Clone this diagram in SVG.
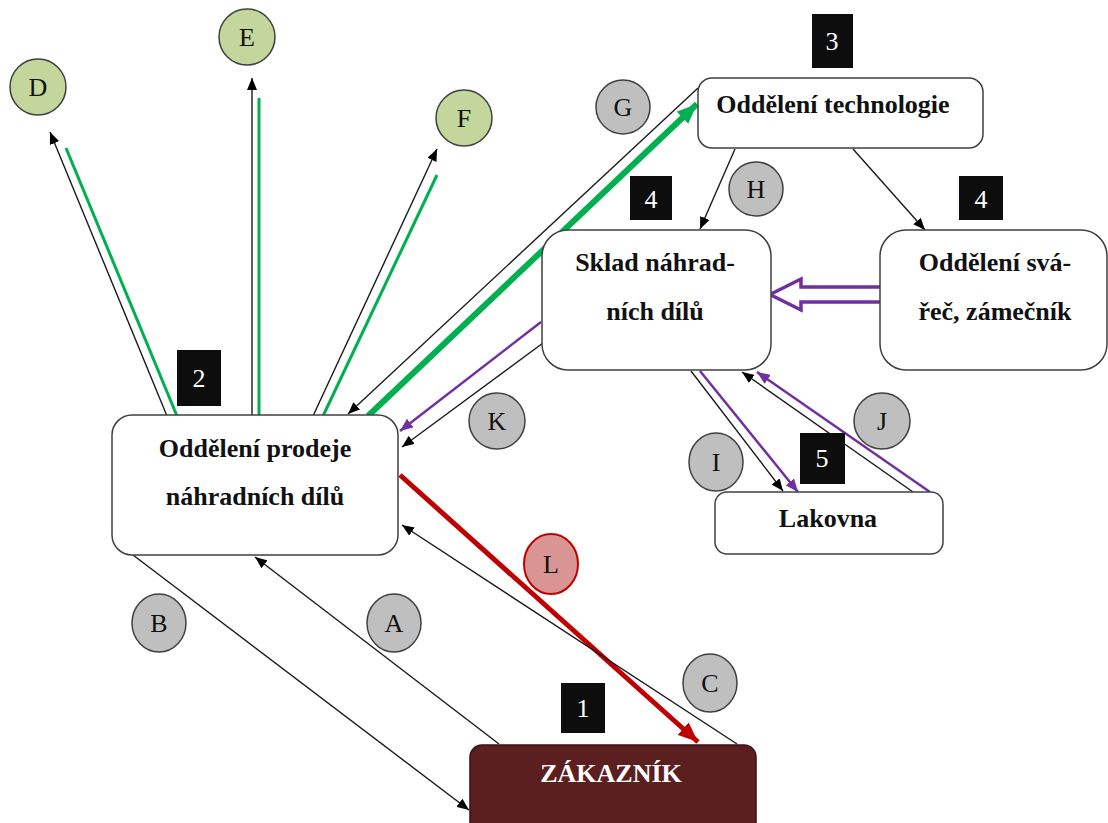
<svg xmlns="http://www.w3.org/2000/svg" width="1108" height="823" viewBox="0 0 1108 823">
<style>
.box{fill:#fff;stroke:#404040;stroke-width:1.5}
.t{font-family:"Liberation Serif","Times New Roman",serif;font-weight:bold;font-size:26px;fill:#111;text-anchor:middle}
.lbl{font-family:"Liberation Serif","Times New Roman",serif;font-size:26px;fill:#111;text-anchor:middle}
.num{fill:#0d0d0d}
.numt{font-family:"Liberation Serif","Times New Roman",serif;font-size:26px;fill:#fff;text-anchor:middle}
.gray{fill:#bfbfbf;stroke:#404040;stroke-width:1.5}
.green{fill:#c3d69b;stroke:#404040;stroke-width:1.5}
.k{stroke:#1a1a1a;stroke-width:1.4;fill:none;marker-end:url(#ak)}
.g{stroke:#00b050;stroke-width:3;fill:none}
.p{stroke:#7030a0;stroke-width:2.5;fill:none;marker-end:url(#ap)}
</style>
<defs>
<marker id="ak" viewBox="0 0 12 10" refX="12" refY="5" markerWidth="12" markerHeight="10" markerUnits="userSpaceOnUse" orient="auto"><path d="M0,0 L12,5 L0,10 z" fill="#000"/></marker>
<marker id="ap" viewBox="0 0 12 10" refX="12" refY="5" markerWidth="13" markerHeight="11" markerUnits="userSpaceOnUse" orient="auto"><path d="M0,0 L12,5 L0,10 z" fill="#7030a0"/></marker>
<marker id="ag" viewBox="0 0 12 10" refX="12" refY="5" markerWidth="20" markerHeight="17" markerUnits="userSpaceOnUse" orient="auto"><path d="M0,0 L12,5 L0,10 z" fill="#00b050"/></marker>
<marker id="ar" viewBox="0 0 12 10" refX="12" refY="5" markerWidth="20" markerHeight="17" markerUnits="userSpaceOnUse" orient="auto"><path d="M0,0 L12,5 L0,10 z" fill="#c00000"/></marker>
</defs>
<g id="connectors">
<line class="k" x1="167" y1="416" x2="50" y2="132"/>
<line class="g" x1="177" y1="416" x2="66" y2="148"/>
<line class="k" x1="252" y1="416" x2="252" y2="78"/>
<line class="g" x1="259" y1="416" x2="259" y2="98"/>
<line class="k" x1="313" y1="416" x2="437" y2="149"/>
<line class="g" x1="323" y1="416" x2="437" y2="175"/>
<line class="k" x1="698" y1="88" x2="348" y2="414"/>
<line x1="368" y1="416" x2="697" y2="104" stroke="#00b050" stroke-width="6" marker-end="url(#ag)"/>
<line class="k" x1="735" y1="149" x2="700" y2="229"/>
<line class="k" x1="853" y1="149" x2="925" y2="230"/>
<polygon points="884,287 801,287 801,279 770,294.5 801,310 801,302 884,302" fill="#fff" stroke="#7030a0" stroke-width="3.5"/>
<line class="p" x1="541" y1="322" x2="400" y2="431"/>
<line class="k" x1="543" y1="343" x2="402" y2="447"/>
<line class="k" x1="691" y1="371" x2="783" y2="491"/>
<line class="p" x1="700" y1="371" x2="798" y2="492"/>
<line class="k" x1="913" y1="492" x2="742" y2="372"/>
<line class="p" x1="930" y1="492" x2="757" y2="372"/>
<line x1="400" y1="475" x2="698" y2="742" stroke="#c00000" stroke-width="5" marker-end="url(#ar)"/>
<line class="k" x1="133" y1="555" x2="469" y2="810"/>
<line class="k" x1="499" y1="744" x2="255" y2="557"/>
<line class="k" x1="737" y1="744" x2="402" y2="525"/>
</g>
<g id="prodej"><rect class="box" x="112" y="415" width="286" height="140" rx="20"/><text class="t" x="255" y="457">Oddělení prodeje</text><text class="t" x="255" y="505">náhradních dílů</text></g>
<g id="technologie"><rect class="box" x="698" y="78" width="285" height="70" rx="14"/><text class="t" x="833" y="113">Oddělení technologie</text></g>
<g id="sklad"><rect class="box" x="542" y="230" width="229" height="140" rx="26"/><text class="t" x="655" y="271">Sklad náhrad-</text><text class="t" x="655" y="320">ních dílů</text></g>
<g id="svarec"><rect class="box" x="880" y="230" width="227" height="140" rx="26"/><text class="t" x="995" y="271">Oddělení svá-</text><text class="t" x="995" y="320">řeč, zámečník</text></g>
<g id="lakovna"><rect class="box" x="715" y="492" width="228" height="62" rx="12"/><text class="t" x="828" y="527">Lakovna</text></g>
<g id="zakaznik"><rect x="470" y="745" width="286" height="90" rx="12" fill="#5c1f20" stroke="#3a1010" stroke-width="1.5"/><text class="t" x="611" y="782" style="fill:#fff">ZÁKAZNÍK</text></g>
<g id="num1"><rect class="num" x="561" y="683" width="44" height="50"/><text class="numt" x="583" y="717">1</text></g>
<g id="num2"><rect class="num" x="177" y="350" width="44" height="56"/><text class="numt" x="199" y="387">2</text></g>
<g id="num3"><rect class="num" x="812" y="14" width="41" height="54"/><text class="numt" x="832" y="50">3</text></g>
<g id="num4a"><rect class="num" x="630" y="176" width="42" height="44"/><text class="numt" x="651" y="208">4</text></g>
<g id="num4b"><rect class="num" x="959" y="176" width="44" height="44"/><text class="numt" x="981" y="208">4</text></g>
<g id="num5"><rect class="num" x="800" y="433" width="45" height="51"/><text class="numt" x="822" y="467">5</text></g>
<g id="D"><circle class="green" cx="38" cy="87" r="28"/><text class="lbl" x="38" y="96">D</text></g>
<g id="E"><circle class="green" cx="247" cy="37" r="28"/><text class="lbl" x="247" y="46">E</text></g>
<g id="F"><circle class="green" cx="464" cy="118" r="28"/><text class="lbl" x="464" y="127">F</text></g>
<g id="G"><circle class="gray" cx="623" cy="107" r="27"/><text class="lbl" x="623" y="116">G</text></g>
<g id="H"><circle class="gray" cx="756" cy="189" r="27"/><text class="lbl" x="756" y="198">H</text></g>
<g id="K"><circle class="gray" cx="497" cy="421" r="28"/><text class="lbl" x="497" y="430">K</text></g>
<g id="I"><ellipse class="gray" cx="716" cy="462" rx="27" ry="29"/><text class="lbl" x="716" y="471">I</text></g>
<g id="J"><circle class="gray" cx="882" cy="421" r="28"/><text class="lbl" x="882" y="430">J</text></g>
<g id="B"><ellipse class="gray" cx="159" cy="623" rx="27" ry="29"/><text class="lbl" x="159" y="632">B</text></g>
<g id="A"><ellipse class="gray" cx="394" cy="623" rx="27" ry="29"/><text class="lbl" x="394" y="632">A</text></g>
<g id="C"><ellipse class="gray" cx="710" cy="683" rx="27" ry="29"/><text class="lbl" x="710" y="692">C</text></g>
<g id="L"><ellipse cx="551" cy="564" rx="27" ry="30" fill="#d99594" stroke="#c00000" stroke-width="2"/><text class="lbl" x="551" y="573">L</text></g>
</svg>
